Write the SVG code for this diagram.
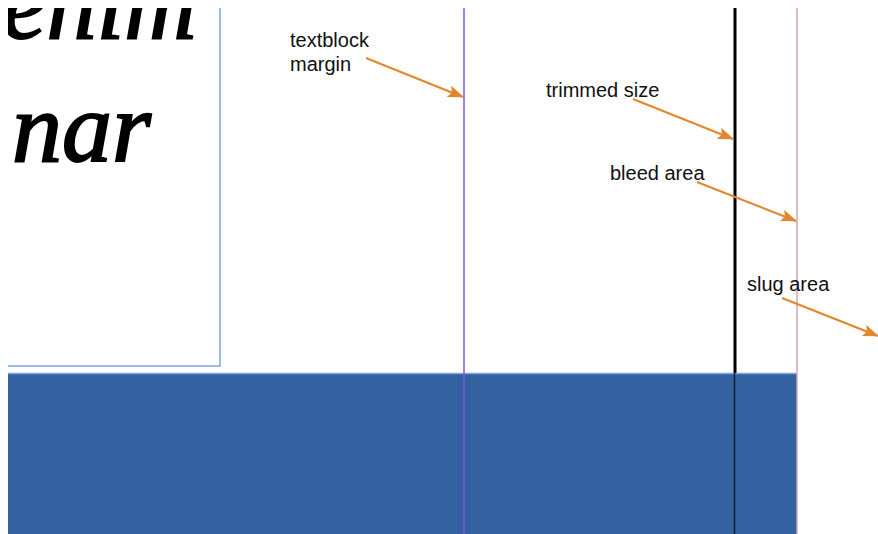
<svg xmlns="http://www.w3.org/2000/svg" width="878" height="534" viewBox="0 0 878 534">
<style>
.lbl{font-family:"Liberation Sans",Arial,sans-serif;font-size:20px;fill:#111}
.big{font-family:"Liberation Serif","Times New Roman",serif;font-style:italic;font-size:100px;fill:#000;stroke:#000;stroke-width:2}
.arr{stroke:#e3872f;stroke-width:2.2;fill:none;marker-end:url(#ah)}
</style>
<defs>
<marker id="ah" viewBox="0 0 16 12" refX="15" refY="6" markerWidth="17" markerHeight="12" markerUnits="userSpaceOnUse" orient="auto"><path d="M0,0 L16,6 L0,12 L3,6 z" fill="#e3872f"/></marker>
<clipPath id="pg"><rect x="8" y="8" width="870" height="526"/></clipPath>
</defs>
<rect width="878" height="534" fill="#fff"/>
<g clip-path="url(#pg)">
<g id="textblock">
<rect x="-2" y="-2" width="222" height="368" fill="none" stroke="#7fa3dc" stroke-width="1.5"/>
<text class="big" x="2" y="38">enim</text>
<text class="big" x="12" y="161">nar</text>
</g>
<g id="bottom-band">
<rect x="8" y="373" width="789" height="161" fill="#3461a0"/>
<line x1="8" y1="373.5" x2="797" y2="373.5" stroke="#7ea6e0" stroke-width="1.5"/>
</g>
<g id="guides">
<line x1="464" y1="8" x2="464" y2="534" stroke="#8a55d8" stroke-width="1.5"/>
<line x1="735" y1="8" x2="735" y2="373" stroke="#000" stroke-width="3"/>
<line x1="734.5" y1="373" x2="734.5" y2="534" stroke="#111a2e" stroke-width="1.5"/>
<line x1="797" y1="8" x2="797" y2="534" stroke="#d8a2b6" stroke-width="1.5"/>
</g>
</g>
<g id="labels">
<text class="lbl" x="290" y="47">textblock</text>
<text class="lbl" x="290" y="71">margin</text>
<text class="lbl" x="546" y="97">trimmed size</text>
<text class="lbl" x="610" y="180">bleed area</text>
<text class="lbl" x="747" y="291">slug area</text>
</g>
<g id="connectors">
<path class="arr" d="M366,58 L463,97"/>
<path class="arr" d="M633,99 L733,139"/>
<path class="arr" d="M697,182 L796,221"/>
<path class="arr" d="M782,298 L878,336"/>
</g>
</svg>
